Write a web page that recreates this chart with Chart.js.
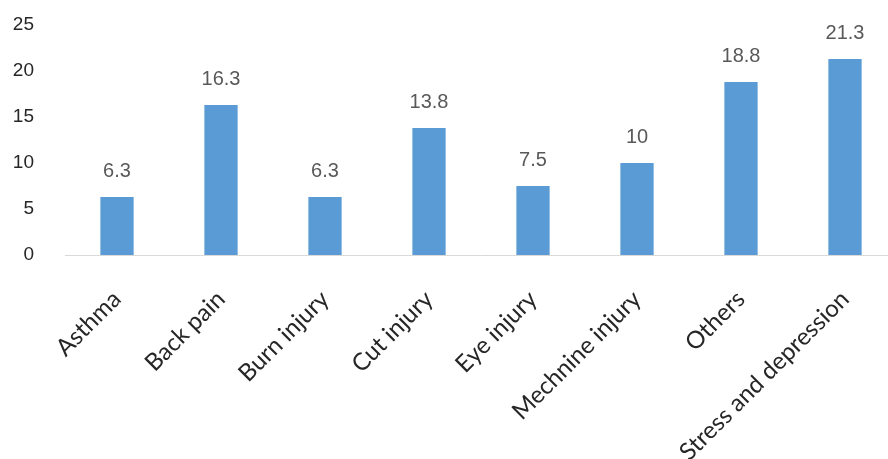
<!DOCTYPE html>
<html>
<head>
<meta charset="utf-8">
<script src="https://cdn.jsdelivr.net/npm/chart.js@4/dist/chart.umd.min.js"></script>
<style>
  html, body { margin: 0; padding: 0; background: #fff; overflow: hidden; }
  #wrap { width: 897px; height: 459px; position: relative; }
</style>
</head>
<body>
<div id="wrap"><canvas id="c"></canvas></div>
<script>
// Categories and percentages
const categories = ["Asthma", "Back pain", "Burn injury", "Cut injury", "Eye injury", "Mechnine injury", "Others", "Stress and depression"];
const values = [6.3, 16.3, 6.3, 13.8, 7.5, 10, 18.8, 21.3];
const yTicks = [0, 5, 10, 15, 20, 25];

// Draws each bar's value above it
const valueLabels = {
  id: 'valueLabels',
  afterDatasetsDraw(chart) {
    const ctx = chart.ctx;
    const meta = chart.getDatasetMeta(0);
    ctx.save();
    ctx.font = '20px "Liberation Sans", Arial, sans-serif';
    ctx.fillStyle = '#595959';
    ctx.textAlign = 'center';
    ctx.textBaseline = 'alphabetic';
    meta.data.forEach((bar, i) => {
      ctx.fillText(String(chart.data.datasets[0].data[i]), bar.x, bar.y - 20);
    });
    ctx.restore();
  }
};

new Chart(document.getElementById('c'), {
  type: 'bar',
  data: {
    labels: categories,
    datasets: [{
      data: values,
      backgroundColor: '#5B9BD5',
      borderWidth: 0,
      categoryPercentage: 1,
      barPercentage: 0.32
    }]
  },
  options: {
    responsive: true,
    maintainAspectRatio: false,
    animation: false,
    layout: { padding: { top: 25, left: 0, right: 0, bottom: 0 } },
    plugins: { legend: { display: false }, tooltip: { enabled: false } },
    scales: {
      x: {
        grid: { display: false, drawTicks: false },
        border: { display: true, color: '#d9d9d9', width: 1 },
        ticks: {
          color: '#262626',
          font: { family: 'Lato, "Open Sans", sans-serif', size: 24 },
          minRotation: 45,
          maxRotation: 45,
          padding: 30,
          autoSkip: false
        },
        afterFit(scale) { scale.height = 204; }
      },
      y: {
        min: 0,
        max: 25,
        grid: { display: false, drawTicks: false },
        border: { display: false },
        afterBuildTicks(scale) { scale.ticks = yTicks.map(v => ({ value: v })); },
        ticks: {
          color: '#262626',
          font: { family: '"Liberation Sans", Arial, sans-serif', size: 19 },
          padding: 31
        },
        afterFit(scale) {
          scale.width = 65;
          scale.paddingTop = 0;
          scale.paddingBottom = 0;
        }
      }
    }
  },
  plugins: [valueLabels]
});
</script>
</body>
</html>
